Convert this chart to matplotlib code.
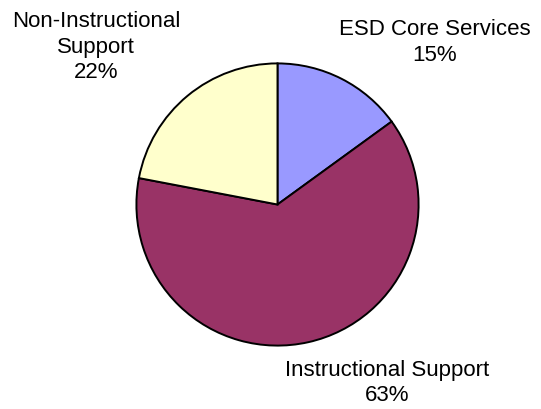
import matplotlib
matplotlib.use("Agg")
import matplotlib.pyplot as plt

plt.rcParams['font.family'] = ['Liberation Sans', 'DejaVu Sans']

# Budget share by category
categories = ["ESD Core Services", "Instructional Support", "Non-Instructional Support"]
shares = [15, 63, 22]
colors = ["#9999FF", "#993366", "#FFFFCC"]
label_texts = ["ESD Core Services\n15%", "Instructional Support\n63%", "Non-Instructional\nSupport\n22%"]

W, H = 541, 409
fig = plt.figure(figsize=(W / 100, H / 100), dpi=100)

cx, cy, r = 277.5, 204.5, 142.5
ax = fig.add_axes([(cx - r) / W, (H - cy - r) / H, 2 * r / W, 2 * r / H])
ax.pie(shares, colors=colors, startangle=90, counterclock=False, radius=1,
       wedgeprops=dict(edgecolor="black", linewidth=1.4))
ax.set_xlim(-1.01, 1.01)
ax.set_ylim(-1.01, 1.01)
ax.set_aspect("equal")
ax.axis("off")

# label centres in pixel coordinates
label_pos = [(435, 42.5), (387, 383), (96, 47)]
for txt, (x, y) in zip(label_texts, label_pos):
    fig.text(x / W, 1 - y / H, txt, ha="center", va="center", fontsize=16,
             linespacing=1.3, color="black")

fig.savefig("out.png", dpi=100)
